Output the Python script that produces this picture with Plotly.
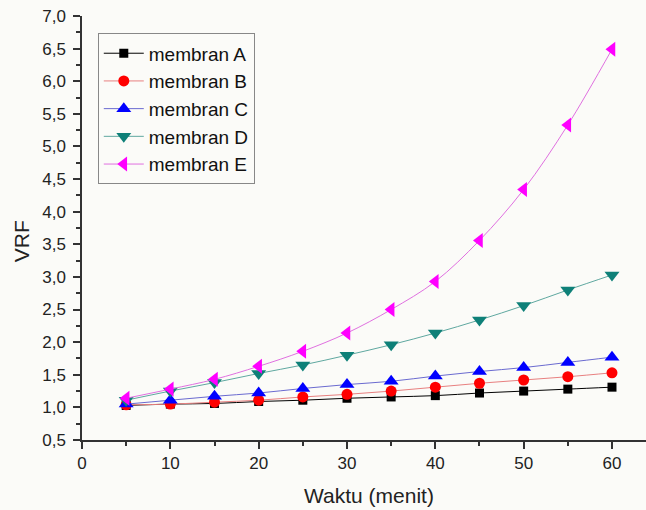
import plotly.graph_objects as go

waktu = [5, 10, 15, 20, 25, 30, 35, 40, 45, 50, 55, 60]
membran_a = [1.03, 1.05, 1.06, 1.09, 1.11, 1.14, 1.16, 1.18, 1.22, 1.25, 1.28, 1.31]
membran_b = [1.04, 1.05, 1.08, 1.11, 1.16, 1.20, 1.25, 1.31, 1.37, 1.42, 1.47, 1.53]
membran_c = [1.05, 1.11, 1.17, 1.22, 1.29, 1.35, 1.40, 1.48, 1.55, 1.61, 1.69, 1.77]
membran_d = [1.11, 1.25, 1.38, 1.52, 1.65, 1.80, 1.96, 2.14, 2.34, 2.56, 2.80, 3.03]
membran_e = [1.14, 1.28, 1.43, 1.63, 1.86, 2.14, 2.50, 2.93, 3.56, 4.34, 5.33, 6.49]

series = [
    ("membran A", membran_a, "#000000", "#000000", "square", 9),
    ("membran B", membran_b, "#ff0000", "#e88080", "circle", 11),
    ("membran C", membran_c, "#0000ff", "#6a6ad0", "triangle-up", 13),
    ("membran D", membran_d, "#0e8078", "#5fa8a0", "triangle-down", 13),
    ("membran E", membran_e, "#ff00ff", "#e070e0", "triangle-left", 13),
]

fig = go.Figure()
for name, vals, mcol, lcol, sym, size in series:
    fig.add_trace(go.Scatter(
        x=waktu, y=vals, name=name, mode="lines+markers",
        line=dict(color=lcol, width=1, shape="spline"),
        marker=dict(color=mcol, symbol=sym, size=size, line=dict(width=0)),
    ))

FONT = "Liberation Sans, Arial, sans-serif"
axis_font = dict(family=FONT, size=17, color="#222")

fig.update_layout(
    width=646, height=510,
    margin=dict(l=82, r=0, t=15.5, b=70),
    paper_bgcolor="#fbfbf8", plot_bgcolor="#fbfbf8",
    separators=",.",
    showlegend=True,
    legend=dict(
        x=0.028, y=0.959, xanchor="left", yanchor="top",
        bgcolor="rgba(0,0,0,0)", bordercolor="#888", borderwidth=1,
        font=dict(family=FONT, size=19, color="#111"),
        tracegroupgap=0, itemwidth=40,
    ),
    xaxis=dict(
        range=[0, 63.85], tickmode="linear", tick0=0, dtick=10,
        ticks="outside", ticklen=7, tickwidth=1.5, tickcolor="#333",
        showline=True, linecolor="#333", linewidth=1.5,
        showgrid=False, zeroline=False, tickfont=axis_font,
        minor=dict(ticks="outside", dtick=5, ticklen=4, tickwidth=1.5, tickcolor="#333", showgrid=False),
    ),
    yaxis=dict(
        range=[0.5, 7.0], tickmode="linear", tick0=0.5, dtick=0.5,
        tickformat=".1f", ticklabelstandoff=4,
        ticks="outside", ticklen=7, tickwidth=1.5, tickcolor="#333",
        showline=True, linecolor="#333", linewidth=1.5,
        showgrid=False, zeroline=False, tickfont=axis_font,
        minor=dict(ticks="outside", dtick=0.25, ticklen=4, tickwidth=1.5, tickcolor="#333", showgrid=False),
    ),
    annotations=[
        dict(text="Waktu (menit)", xref="paper", yref="paper", x=0.509, y=-0.13,
             xanchor="center", yanchor="middle", showarrow=False,
             font=dict(family=FONT, size=21, color="#222")),
        dict(text="VRF", xref="paper", yref="paper", x=-0.108, y=0.469,
             xanchor="center", yanchor="middle", showarrow=False, textangle=-90,
             font=dict(family=FONT, size=21, color="#222")),
    ],
)

fig.write_html("out.html")
